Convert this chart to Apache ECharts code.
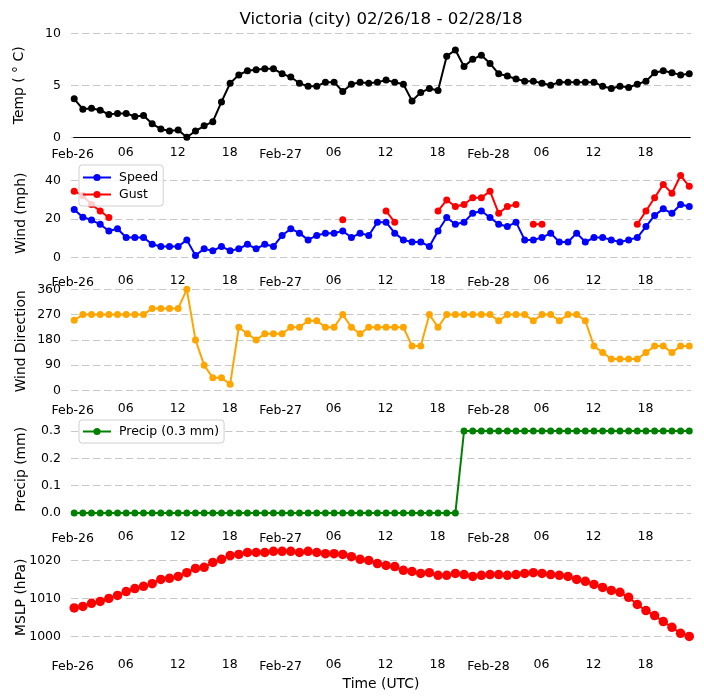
<!DOCTYPE html>
<html><head><meta charset="utf-8">
<style>html,body{margin:0;padding:0;background:#fff}#c{width:704px;height:700px}</style>
<script src="https://cdn.jsdelivr.net/npm/echarts@6/dist/echarts.min.js"></script>
</head><body><div id="c"></div>
<script>
const tickHours = [0,6,12,18,24,30,36,42,48,54,60,66];
const tickLabels = ['Feb-26','06','12','18','Feb-27','06','12','18','Feb-28','06','12','18'];
const temp = [3.7,2.7,2.8,2.6,2.2,2.3,2.3,2.0,2.1,1.3,0.8,0.6,0.7,0,0.6,1.1,1.5,3.4,5.2,6.0,6.4,6.5,6.6,6.6,6.1,5.8,5.2,4.9,4.9,5.3,5.3,4.4,5.1,5.3,5.2,5.3,5.5,5.3,5.1,3.5,4.3,4.7,4.5,7.8,8.4,6.8,7.5,7.9,7.1,6.1,5.9,5.6,5.4,5.4,5.2,5.0,5.3,5.3,5.3,5.3,5.3,4.9,4.7,4.9,4.8,5.1,5.4,6.2,6.4,6.2,6.0,6.1];
const speed = [25,21,19.5,17.3,13.8,15,10.4,10.4,10.4,6.9,5.8,5.8,5.8,9.2,1.1,4.6,3.5,5.8,3.5,4.6,6.9,4.6,6.9,5.8,11.5,15,12.7,9.2,11.5,12.7,12.7,13.8,10.4,12.7,11.5,18.4,18.4,12.7,9.2,8.1,8.1,5.8,13.8,20.8,17.3,18.4,23,24.2,20.8,17.3,16.1,18.4,9.2,9.2,10.4,12.7,8.1,8.1,12.7,8.1,10.4,10.4,9.2,8.1,9.2,10.4,16.1,21.9,25.3,23,27.6,26.5];
const gust = [34.5,32.2,27.6,24.2,20.8,null,null,null,null,null,null,null,null,null,null,null,null,null,null,null,null,null,null,null,null,null,null,null,null,null,null,19.6,null,null,null,null,24.2,18.4,null,null,null,null,24.2,29.9,26.5,27.6,31.1,31.1,34.5,23,26.5,27.6,null,17.3,17.3,null,null,null,null,null,null,null,null,null,null,17.3,24.2,31.1,38,33.4,42.6,37];
const dir = [250,270,270,270,270,270,270,270,270,292,292,292,292,360,180,90,45,45,22,225,202,180,202,202,202,225,225,248,248,225,225,270,225,202,225,225,225,225,225,158,158,270,225,270,270,270,270,270,270,248,270,270,270,248,270,270,248,270,270,248,158,135,112,112,112,112,135,158,158,135,158,158];
const precip = [0,0,0,0,0,0,0,0,0,0,0,0,0,0,0,0,0,0,0,0,0,0,0,0,0,0,0,0,0,0,0,0,0,0,0,0,0,0,0,0,0,0,0,0,0,0.3,0.3,0.3,0.3,0.3,0.3,0.3,0.3,0.3,0.3,0.3,0.3,0.3,0.3,0.3,0.3,0.3,0.3,0.3,0.3,0.3,0.3,0.3,0.3,0.3,0.3,0.3];
const mslp = [1007.5,1007.9,1008.7,1009.2,1010,1010.8,1011.8,1012.6,1013.2,1013.9,1015,1015.3,1015.8,1016.8,1017.9,1018.2,1019.5,1020.3,1021.3,1021.6,1022.1,1022.1,1022.1,1022.4,1022.4,1022.4,1022.1,1022.4,1022.1,1021.8,1021.8,1021.6,1021,1020.3,1020,1019.2,1018.7,1018.4,1017.4,1017.1,1016.6,1016.8,1016.1,1016.1,1016.6,1016.3,1015.8,1016.1,1016.3,1016.3,1016.1,1016.3,1016.6,1016.8,1016.6,1016.3,1016.1,1015.8,1015,1014.5,1013.7,1012.9,1012.1,1011.6,1010.3,1008.4,1006.8,1005.5,1003.9,1002.4,1000.8,1000];

const FONT = '"DejaVu Sans"';
const tops = [33.3,161.3,289.3,417.3,545.3];
const H = 104;
const yCfg = [
  {name:'Temp ( \u00B0 C)', min:0, max:10, ticks:[0,5,10], gap:45},
  {name:'Wind (mph)', min:-4, max:50, ticks:[0,20,40], gap:43},
  {name:'Wind Direction', min:-10, max:360, ticks:[0,90,180,270,360], gap:43},
  {name:'Precip (mm)', min:-0.03, max:0.35, ticks:[0,0.1,0.2,0.3], gap:43, fmt:v=>v.toFixed(1)},
  {name:'MSLP (hPa)', min:996.6, max:1024, ticks:[1000,1010,1020], gap:43}
];
const pts = a => a.map((v,i)=>[i,v]);
function line(name,data,color,gi,size,extra){
  return Object.assign({type:'line',name,data:pts(data),xAxisIndex:gi,yAxisIndex:gi,
    symbol:'circle',symbolSize:size,showSymbol:true,showAllSymbol:true,connectNulls:false,
    clip:false,animation:false,
    lineStyle:{color,width:2},itemStyle:{color}},extra||{});
}
const option = {
  animation:false,
  backgroundColor:'#fff',
  title:{text:'Victoria (city) 02/26/18 - 02/28/18',left:376,top:6,textAlign:'center',
    textStyle:{fontFamily:FONT,fontSize:16.67,fontWeight:'normal',color:'#000'}},
  grid:tops.map(t=>({left:71,width:620,top:t,height:H,containLabel:false,outerBoundsMode:'none'})),
  xAxis:tops.map((t,i)=>({
    type:'value',gridIndex:i,min:-0.37,max:71.2,
    axisLine:{show:false},axisTick:{show:false},splitLine:{show:false},
    axisLabel:{customValues:tickHours,margin:9,hideOverlap:false,showMinLabel:true,showMaxLabel:true,
      fontFamily:FONT,fontSize:12.5,color:'#000',
      formatter:v=>{const s=tickLabels[tickHours.indexOf(v)];return s.startsWith('Feb')?'{d|'+s+'}':'{h|'+s+'}';},
      rich:{d:{fontFamily:FONT,fontSize:12.5,color:'#000',padding:[2,3,0,0]},h:{fontFamily:FONT,fontSize:12.5,color:'#000',padding:[0,1,2,0]}}},
    name:i===4?'Time (UTC)':'',nameLocation:'middle',nameGap:28,nameMoveOverlap:false,
    nameTextStyle:{fontFamily:FONT,fontSize:13.9,color:'#000'}
  })),
  yAxis:yCfg.map((c,i)=>({
    type:'value',gridIndex:i,min:c.min,max:c.max,
    name:c.name,nameLocation:'middle',nameGap:c.gap,nameRotate:90,nameMoveOverlap:false,
    nameTextStyle:{fontFamily:FONT,fontSize:13.9,color:'#000'},
    axisLine:{show:false},
    axisTick:{show:false,customValues:c.ticks},
    axisLabel:{customValues:c.ticks,margin:10,padding:[3,0,0,0],fontFamily:FONT,fontSize:12.5,color:'#000',hideOverlap:false,
      showMinLabel:true,showMaxLabel:true,formatter:c.fmt||(v=>String(v))},
    splitLine:{show:true,lineStyle:{color:'#c8c8c8',width:1,type:[7.4,3.6]}}
  })),
  legend:[
    {data:['Speed','Gust'],orient:'vertical',left:79,top:165,itemWidth:28,itemHeight:9,itemGap:4,padding:[6,5,5,3],
     backgroundColor:'rgba(255,255,255,0.8)',borderColor:'#d0d0d0',borderWidth:1,borderRadius:3,lineStyle:{width:2},
     textStyle:{fontFamily:FONT,fontSize:12.5,color:'#000',padding:[0,0,0,3]}},
    {data:['Precip (0.3 mm)'],orient:'vertical',left:79,top:420,itemWidth:28,itemHeight:9,padding:[5,5,5,3],
     backgroundColor:'rgba(255,255,255,0.8)',borderColor:'#d0d0d0',borderWidth:1,borderRadius:3,lineStyle:{width:2},
     textStyle:{fontFamily:FONT,fontSize:12.5,color:'#000',padding:[0,0,0,3]}}
  ],
  series:[
    line('Temp',temp,'#000',0,7,{markLine:{silent:true,symbol:'none',animation:false,label:{show:false},
      lineStyle:{color:'#000',width:1,type:'solid'},data:[[{coord:[-0.1,0]},{coord:[71.15,0]}]]}}),
    line('Speed',speed,'#0000ff',1,7),
    line('Gust',gust,'#ff0000',1,7),
    line('Direction',dir,'#ffa500',2,7),
    line('Precip (0.3 mm)',precip,'#008000',3,7),
    line('MSLP',mslp,'#ff0000',4,9.5)
  ]
};
const chart = echarts.init(document.getElementById('c'),null,{renderer:'canvas',width:704,height:700});
chart.setOption(option);
</script></body></html>
